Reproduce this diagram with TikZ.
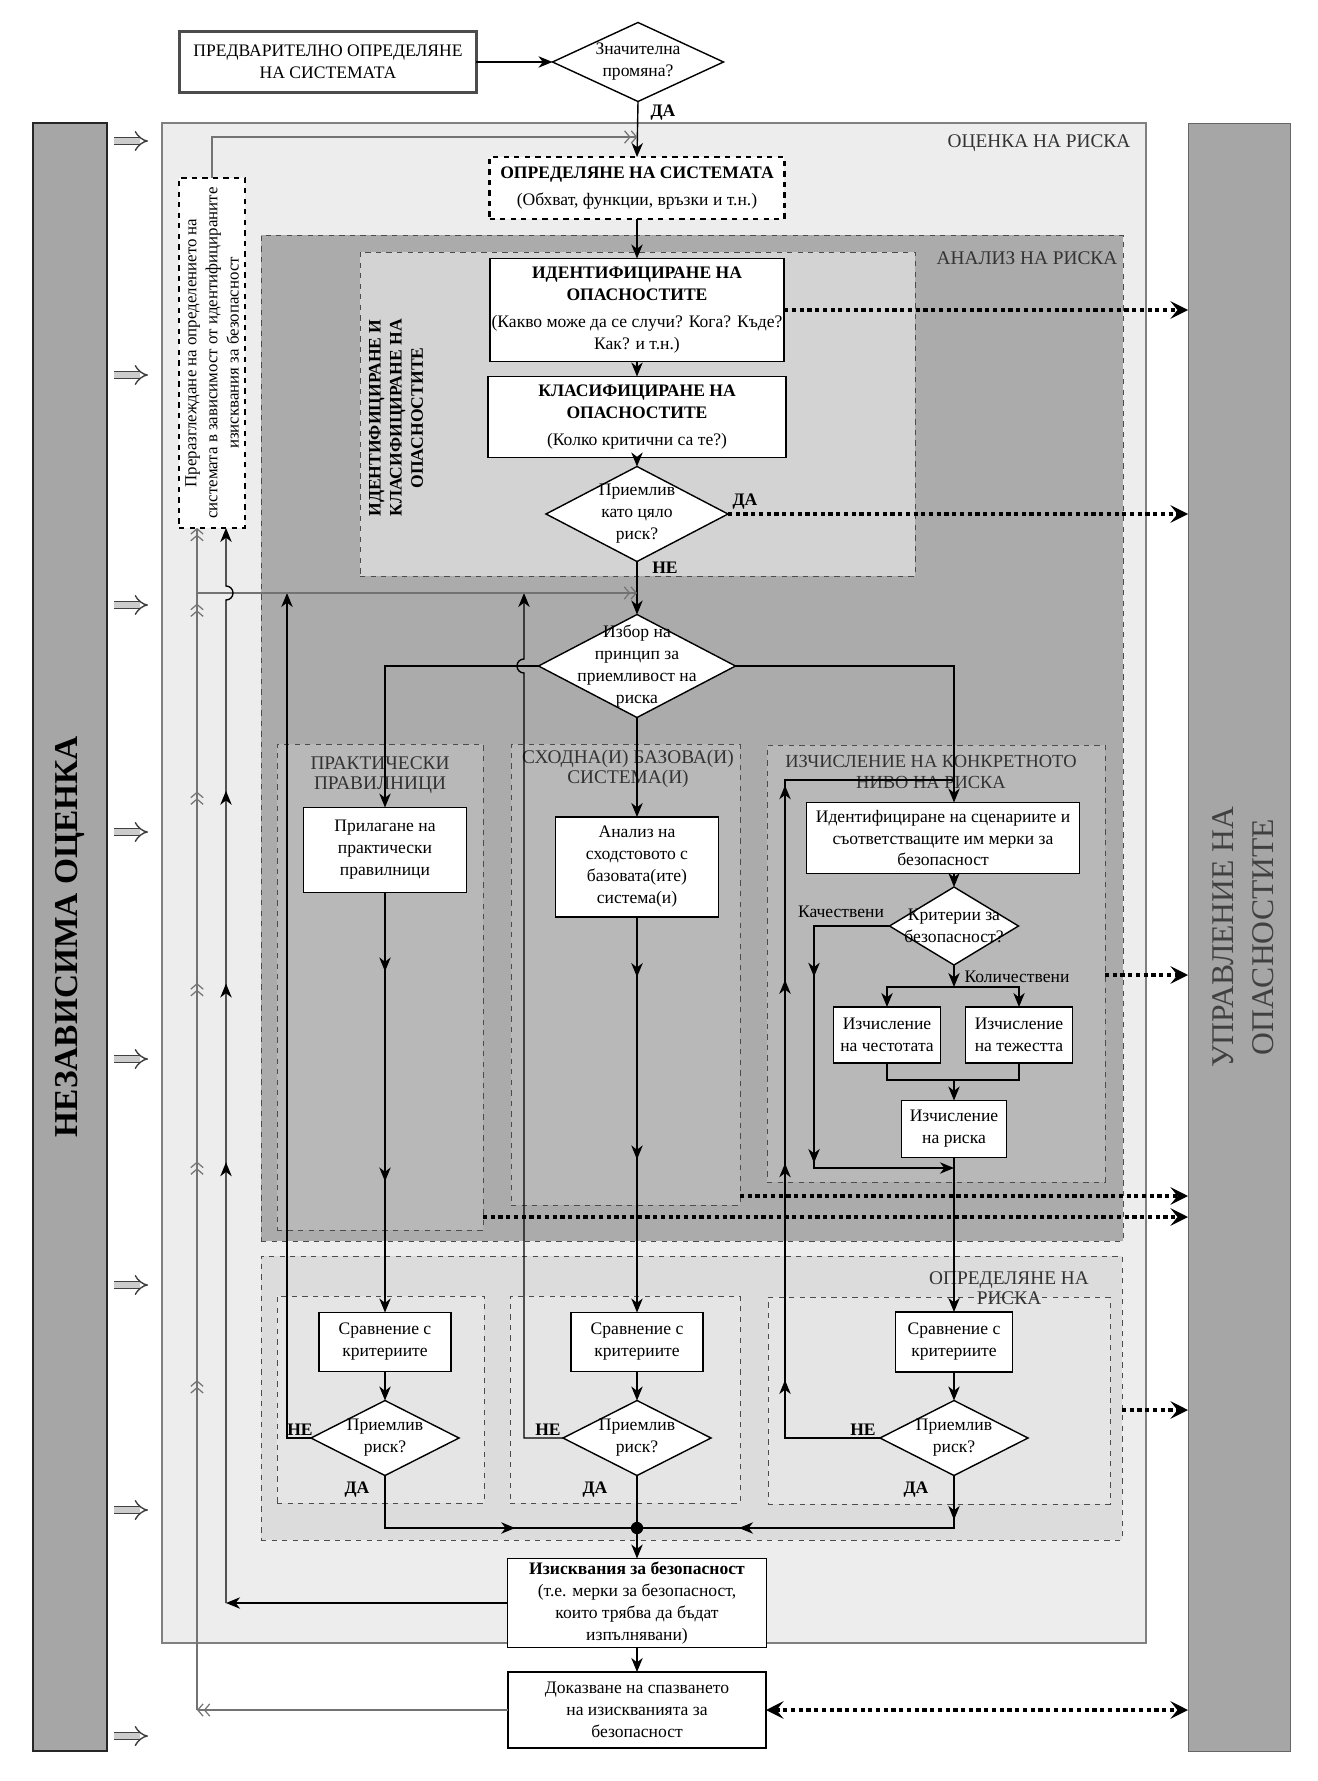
\documentclass[tikz,border=0pt]{standalone}
\usepackage{fontspec}
\setmainfont{Liberation Serif}
\usepackage{tikz}
\usetikzlibrary{shapes.geometric,positioning,calc,arrows.meta,decorations.markings}
\definecolor{barbg}{HTML}{A6A6A6}
\definecolor{assessbg}{HTML}{EDEDED}
\definecolor{analysisbg}{HTML}{ABABAB}
\definecolor{hazardbg}{HTML}{D3D3D3}
\definecolor{methodbg}{HTML}{B8B8B8}
\definecolor{evalbg}{HTML}{DCDCDC}
\definecolor{evalsubbg}{HTML}{E5E5E5}

\begin{document}
\begin{tikzpicture}[x=0.02cm, y=-0.02cm,
  flowtip/.tip={Stealth[length=8pt, width=6.5pt, inset=2.5pt]},
  backtip/.tip={Straight Barb[length=3pt, width=7pt, line width=0.7pt] Straight Barb[length=3pt, width=7pt, line width=0.7pt]},
  dottip/.tip={Stealth[length=10pt, width=10pt, inset=4pt]},
  txt/.style={font=\fontsize{10}{12.5}\selectfont, align=center},
  bx/.style={txt, draw, thick, fill=white, inner sep=1pt, outer sep=0pt},
  dia/.style={diamond, draw, thick, fill=white, inner sep=0pt, outer sep=0pt},
  area/.style={draw=black!70, dashed, inner sep=0pt, outer sep=0pt},
  lbl/.style={font=\fontsize{11}{11.5}\selectfont, align=center, text=black!80},
  yn/.style={font=\fontsize{10}{12}\selectfont\bfseries},
  line/.style={thick},
  flow/.style={thick, -flowtip},
  back/.style={draw=black!55, line width=0.7pt},
  dots/.style={line width=2.4pt, dash pattern=on 2.4pt off 2pt, -dottip},
  inarrow/.style={draw=black!75, double=black!20, double distance=3.2pt, line width=0.8pt, -Implies},
  arrowat/.style={postaction={decorate, decoration={markings, mark=at position #1 with {\arrow{flowtip}}}}},
  barbat/.style={postaction={decorate, decoration={markings, mark=at position #1 with {\arrow{backtip}}}}}
]
  \useasboundingbox (0,0) rectangle (1318,1781);

  % Side bars
  \node[draw=black!85, line width=1.2pt, fill=barbg, inner sep=0pt, outer sep=0pt, minimum width=1.48cm, minimum height=32.56cm] (indbar) at (70,937) {};
  \node[rotate=90, font=\fontsize{19}{22}\selectfont\bfseries] (indtxt) at (indbar) {НЕЗАВИСИМА ОЦЕНКА};
  \node[draw=black!60, fill=barbg, inner sep=0pt, outer sep=0pt, minimum width=2.04cm, minimum height=32.56cm] (mgmtbar) at (1239,937) {};
  \node[rotate=90, align=center, text=black!75, font=\fontsize{18}{22.8}\selectfont] (mgmttxt) at (1243,937) {УПРАВЛЕНИЕ НА\\ОПАСНОСТИТЕ};
  \foreach \y in {141,375,605,832,1059,1285,1510,1736}
    \draw[inarrow] (114,\y) -- (148,\y);

  % Areas
  \node[draw=black!50, line width=0.8pt, fill=assessbg, inner sep=0pt, outer sep=0pt, minimum width=19.68cm, minimum height=30.4cm] (assess) at (654,883) {};
  \node[area, fill=analysisbg, minimum width=17.24cm, minimum height=20.12cm] (analysis) at (692,738) {};
  \node[area, fill=hazardbg, minimum width=11.1cm, minimum height=6.48cm] (hazreg) at (637.5,414) {};
  \node[area, fill=methodbg, minimum width=4.12cm, minimum height=9.72cm] (rulereg) at (380,987) {};
  \node[area, fill=methodbg, minimum width=4.58cm, minimum height=9.22cm] (refreg) at (625.5,974.5) {};
  \node[area, fill=methodbg, minimum width=6.76cm, minimum height=8.74cm] (calcreg) at (936,963.5) {};
  \node[area, fill=evalbg, minimum width=17.22cm, minimum height=5.68cm] (evalreg) at (691.5,1398) {};
  \node[area, fill=evalsubbg, minimum width=4.14cm, minimum height=4.14cm] (evalA) at (380.5,1399.5) {};
  \node[area, fill=evalsubbg, minimum width=4.6cm, minimum height=4.14cm] (evalB) at (625,1399.5) {};
  \node[area, fill=evalsubbg, minimum width=6.84cm, minimum height=4.14cm] (evalC) at (939,1400.5) {};

  % Area labels
  \node[lbl] (assesslbl) at (1039,143) {ОЦЕНКА НА РИСКА};
  \node[lbl] (analysislbl) at (1027,258) {АНАЛИЗ НА РИСКА};
  \node[rotate=90, align=center, font=\fontsize{10}{12}\selectfont\bfseries] (hazlbl) at (396,418) {ИДЕНТИФИЦИРАНЕ И\\КЛАСИФИЦИРАНЕ НА\\ОПАСНОСТИТЕ};
  \node[lbl] (rulelbl) at (380,775) {ПРАКТИЧЕСКИ\\ПРАВИЛНИЦИ};
  \node[lbl] (reflbl) at (628,769) {СХОДНА(И) БАЗОВА(И)\\СИСТЕМА(И)};
  \node[lbl, font=\fontsize{10.5}{11.5}\selectfont] (calclbl) at (931,772) {ИЗЧИСЛЕНИЕ НА КОНКРЕТНОТО\\НИВО НА РИСКА};
  \node[lbl] (evallbl) at (1009,1288) {ОПРЕДЕЛЯНЕ НА\\РИСКА};

  % Top part
  \node[bx, line width=1.6pt, draw=black!70, minimum width=5.94cm, minimum height=1.22cm] (prelim) at (328,62) {ПРЕДВАРИТЕЛНО ОПРЕДЕЛЯНЕ\\НА СИСТЕМАТА};
  \node[dia, minimum width=3.42cm, minimum height=1.58cm, label={[txt]center:Значителна\\промяна?}] (change) at (638,62) {};
  \node[yn] (yes0) at (663,113) {ДА};
  \node[bx, dashed, line width=1.4pt, minimum width=5.9cm, minimum height=1.24cm] (sysdef) at (637,188) {\textbf{ОПРЕДЕЛЯНЕ НА СИСТЕМАТА}\\[2.5pt](Обхват, функции, връзки и т.н.)};
  \node[draw, dashed, thick, fill=white, inner sep=0pt, outer sep=0pt, minimum width=1.32cm, minimum height=7cm] (review) at (212,353) {};
  \node[txt, rotate=90, font=\fontsize{9.6}{12}\selectfont] (reviewtxt) at (review) {Преразглеждане на определението на\\системата в зависимост от идентифицираните\\изисквания за безопасност};

  % Hazards
  \node[bx, minimum width=5.82cm, minimum height=2.06cm] (ident) at (637,310) {\textbf{ИДЕНТИФИЦИРАНЕ НА}\\\textbf{ОПАСНОСТИТЕ}\\[3pt](Какво може да се случи? Кога? Къде?\\Как? и т.н.)};
  \node[bx, minimum width=5.96cm, minimum height=1.62cm] (classif) at (637,417) {\textbf{КЛАСИФИЦИРАНЕ НА}\\\textbf{ОПАСНОСТИТЕ}\\[3pt](Колко критични са те?)};
  \node[dia, minimum width=3.64cm, minimum height=1.9cm, label={[txt]center:Приемлив\\като цяло\\риск?}] (accall) at (637,514) {};
  \node[yn] (yes1) at (745,502) {ДА};
  \node[yn] (no1) at (665,568) {НЕ};

  % Choice of principle
  \node[dia, minimum width=3.94cm, minimum height=2.06cm, label={[txt]center:Избор на\\принцип за\\приемливост на\\риска}] (choice) at (637,666) {};
  \node[bx, minimum width=3.26cm, minimum height=1.7cm] (prak) at (385,850) {Прилагане на\\практически\\правилници};
  \node[bx, minimum width=3.26cm, minimum height=2.0cm] (anal) at (637,867) {Анализ на\\сходстовото с\\базовата(ите)\\система(и)};
  \node[bx, minimum width=5.46cm, minimum height=1.42cm] (scen) at (943,838) {Идентифициране на сценариите и\\съответстващите им мерки за\\безопасност};
  \node[dia, minimum width=2.58cm, minimum height=1.56cm, label={[txt]center:Критерии за\\безопасност?}] (crit) at (954,926) {};
  \node[txt] (qualtxt) at (841,912) {Качествени};
  \node[txt] (quanttxt) at (1017,977) {Количествени};
  \node[bx, minimum width=2.14cm, minimum height=1.12cm] (freq) at (887,1035) {Изчисление\\на честотата};
  \node[bx, minimum width=2.14cm, minimum height=1.12cm] (sev) at (1019,1035) {Изчисление\\на тежестта};
  \node[bx, minimum width=2.1cm, minimum height=1.14cm] (risk) at (954,1129) {Изчисление\\на риска};

  % Evaluation
  \node[bx, minimum width=2.64cm, minimum height=1.18cm] (cmp1) at (385,1342) {Сравнение с\\критериите};
  \node[bx, minimum width=2.64cm, minimum height=1.18cm] (cmp2) at (637,1342) {Сравнение с\\критериите};
  \node[bx, minimum width=2.34cm, minimum height=1.2cm] (cmp3) at (954,1342) {Сравнение с\\критериите};
  \node[dia, minimum width=2.96cm, minimum height=1.5cm, label={[txt]center:Приемлив\\риск?}] (acc1) at (385,1438) {};
  \node[dia, minimum width=2.96cm, minimum height=1.5cm, label={[txt]center:Приемлив\\риск?}] (acc2) at (637,1438) {};
  \node[dia, minimum width=2.96cm, minimum height=1.5cm, label={[txt]center:Приемлив\\риск?}] (acc3) at (954,1438) {};
  \node[yn] (no2) at (300,1430) {НЕ};
  \node[yn] (no3) at (548,1430) {НЕ};
  \node[yn] (no4) at (863,1430) {НЕ};
  \node[yn] (yes2) at (357,1490) {ДА};
  \node[yn] (yes3) at (595,1490) {ДА};
  \node[yn] (yes4) at (916,1490) {ДА};

  % Bottom
  \node[bx, minimum width=5.18cm, minimum height=1.78cm] (req) at (637,1603) {\textbf{Изисквания за безопасност}\\(т.е. мерки за безопасност,\\които трябва да бъдат\\изпълнявани)};
  \node[bx, minimum width=5.16cm, minimum height=1.52cm] (proof) at (637,1710) {Доказване на спазването\\на изискванията за\\безопасност};

  % Helper points
  \coordinate (fbl) at (197,593);
  \coordinate (fbr) at (226,593);
  \coordinate (hop2) at (524,666);
  \coordinate (ne1) at (287,593);
  \coordinate (ne3) at (785,780);
  \coordinate (qual) at (814,1168);
  \coordinate (split) at (954,987);
  \coordinate (merge) at (954,1080);
  \coordinate (join) at (637,1528);

  % Main flow
  \draw[flow] (prelim.east) -- (change.west);
  \draw[flow] (change.south) -- (sysdef.north);
  \draw[flow] (sysdef.south) -- (ident.north);
  \draw[flow] (ident.south) -- (classif.north);
  \draw[flow] (classif.south) -- (accall.north);
  \draw[flow] (accall.south) -- (choice.north);
  \draw[flow] (choice.west) -| (prak.north);
  \draw[flow] (choice.south) -- (anal.north);
  \draw[flow] (choice.east) -| (crit |- scen.north);
  \draw[flow] (scen.south -| crit) -- (crit.north);
  \draw[flow, arrowat=0.276, arrowat=0.683] (crit.west) -| (qual) -- (qual -| risk);
  \draw[flow] (crit.south) -- (split);
  \draw[flow] (split) -| (freq.north);
  \draw[flow] (split) -| (sev.north);
  \draw[line] (freq.south) |- (merge);
  \draw[line] (sev.south) |- (merge);
  \draw[flow] (merge) -- (risk.north);

  % Down to evaluation
  \draw[flow, arrowat=0.188, arrowat=0.688] (prak.south) -- (cmp1.north);
  \draw[flow, arrowat=0.152, arrowat=0.613] (anal.south) -- (cmp2.north);
  \draw[flow] (risk.south) -- (cmp3.north);
  \draw[flow] (cmp1.south) -- (acc1.north);
  \draw[flow] (cmp2.south) -- (acc2.north);
  \draw[flow] (cmp3.south) -- (acc3.north);

  % NO loops
  \draw[flow] (acc1.west) -| (ne1);
  \draw[flow] (acc2.west) -| ([yshift=-4pt]hop2) arc[start angle=-90, end angle=-270, radius=4pt] -- (hop2 |- fbl);
  \draw[line, arrowat=0.166, arrowat=0.401, arrowat=0.600, arrowat=0.811] (acc3.west) -| (ne3) -- (ne3 -| crit);

  % YES join
  \draw[line, arrowat=0.60] (acc1.south) |- (join);
  \draw[line, arrowat=0.12, arrowat=0.724] (acc3.south) |- (join);
  \draw[line] (acc2.south) -- (join);
  \fill (join) circle (3.5pt);
  \draw[flow] (join) -- (req.north);
  \draw[flow] (req.south) -- (proof.north);

  % Feedback lines
  \draw[back, -backtip] (review.north) |- ($(change.south)!0.64!(sysdef.north)$);
  \draw[back, -backtip] (fbl) -- (fbl -| choice.north);
  \draw[flow] (req.west) -- (req.west -| fbr);
  \draw[flow, arrowat=0.407, arrowat=0.572, arrowat=0.75] (req.west -| fbr) -- ([yshift=-4pt]fbr) arc[start angle=-90, end angle=90, radius=4pt] -- (fbr |- review.south);
  \draw[back, -backtip] (proof.west) -- (proof.west -| fbl);
  \draw[back, -backtip, barbat=0.279, barbat=0.464, barbat=0.615, barbat=0.777, barbat=0.936] (proof.west -| fbl) -- (fbl |- review.south);

  % To hazard management
  \draw[dots] (ident.east) -- (ident.east -| mgmtbar.west);
  \draw[dots] (accall.east) -- (accall.east -| mgmtbar.west);
  \draw[dots] (calcreg.east |- 0,975) -- (mgmtbar.west |- 0,975);
  \draw[dots] (refreg.east |- 0,1196) -- (mgmtbar.west |- 0,1196);
  \draw[dots] (rulereg.east |- 0,1217) -- (mgmtbar.west |- 0,1217);
  \draw[dots] (evalreg.east |- 0,1410) -- (mgmtbar.west |- 0,1410);
  \draw[dots, dottip-dottip] (proof.east) -- (proof.east -| mgmtbar.west);
\end{tikzpicture}
\end{document}
